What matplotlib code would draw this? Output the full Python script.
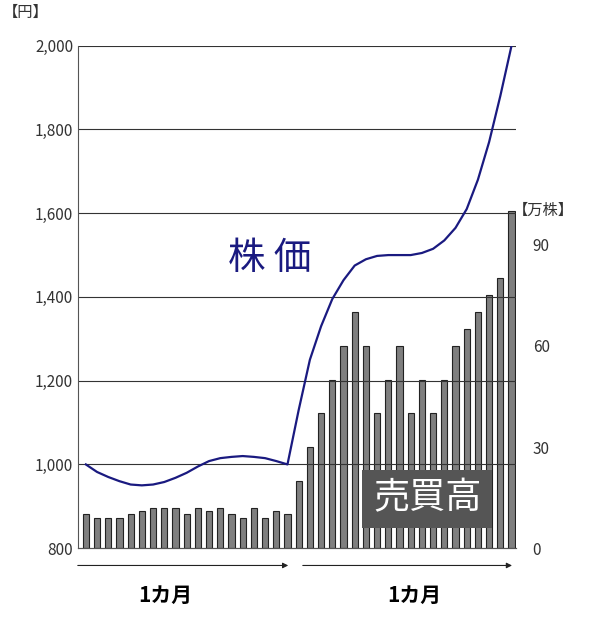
import matplotlib
matplotlib.use("Agg")
import matplotlib.pyplot as plt
import numpy as np

plt.rcParams["font.family"] = ["Noto Sans CJK JP", "DejaVu Sans"]

# volume (万株), one bar per day
volume = [10, 9, 9, 9, 10, 11, 12, 12, 12, 10, 12, 11, 12, 10, 9, 12, 9, 11, 10,
          20, 30, 40, 50, 60, 70, 60, 40, 50, 60, 40, 50, 40, 50, 60, 65, 70, 75, 80, 100]
# stock price (円)
price = [1000, 982, 970, 960, 952, 950, 952, 958, 968, 980, 995, 1008, 1015, 1018, 1020,
         1018, 1015, 1008, 1000,
         1130, 1250, 1330, 1395, 1440, 1475, 1490, 1498, 1500, 1500, 1500, 1505, 1515,
         1535, 1565, 1610, 1680, 1770, 1880, 2000]
left_ticks = [800, 1000, 1200, 1400, 1600, 1800, 2000]
right_ticks = [0, 30, 60, 90]

x = np.arange(len(volume))
fig = plt.figure(figsize=(6.0, 6.18), dpi=100)
ax = fig.add_axes([0.13, 0.113, 0.73, 0.813])
ax2 = ax.twinx()
ax.set_zorder(ax2.get_zorder() + 1)
ax.patch.set_visible(False)

ax2.bar(x, volume, width=0.55, color="#7f7f7f", edgecolor="#222222", linewidth=0.8)
ax2.set_ylim(0, 149)
ax2.set_yticks(right_ticks)
ax2.tick_params(axis="y", length=0, labelsize=11, colors="#333333", pad=12)

ax.plot(x, price, color="#1a1a80", lw=1.6)
ax.set_ylim(800, 2000)
ax.set_xlim(-0.7, len(volume) - 0.6)
ax.set_yticks(left_ticks)
ax.set_yticklabels([f"{v:,}" for v in left_ticks])
ax.tick_params(axis="y", length=0, labelsize=11, colors="#333333")
ax.set_xticks([])
for v in left_ticks[1:]:
    ax.axhline(v, color="#333333", lw=0.8, zorder=0)
for a in (ax, ax2):
    for s in ("top", "right"):
        a.spines[s].set_visible(False)
    a.spines["left"].set_color("#555555")
    a.spines["bottom"].set_color("#555555")
ax2.spines["left"].set_visible(False)

fig.text(0.005, 0.972, "【円】", fontsize=11, color="#333333")
fig.text(0.855, 0.652, "【万株】", fontsize=11, color="#333333")
fig.text(0.45, 0.582, "株 価", fontsize=27, color="#1a1a80", ha="center", va="center")
fig.text(0.712, 0.193, "売買高", fontsize=26, color="white", ha="center", va="center",
         bbox=dict(boxstyle="square,pad=0.3", fc="#555555", ec="none"))

for x0, x1, tx in [(0.125, 0.485, 0.275), (0.5, 0.858, 0.69)]:
    fig.add_artist(matplotlib.patches.FancyArrowPatch(
        (x0, 0.085), (x1, 0.085), transform=fig.transFigure,
        arrowstyle="-|>", mutation_scale=8, color="#222222", lw=0.8))
    fig.text(tx, 0.02, "1カ月", fontsize=15, fontweight="bold", ha="center", va="bottom")

fig.savefig("out.png")
